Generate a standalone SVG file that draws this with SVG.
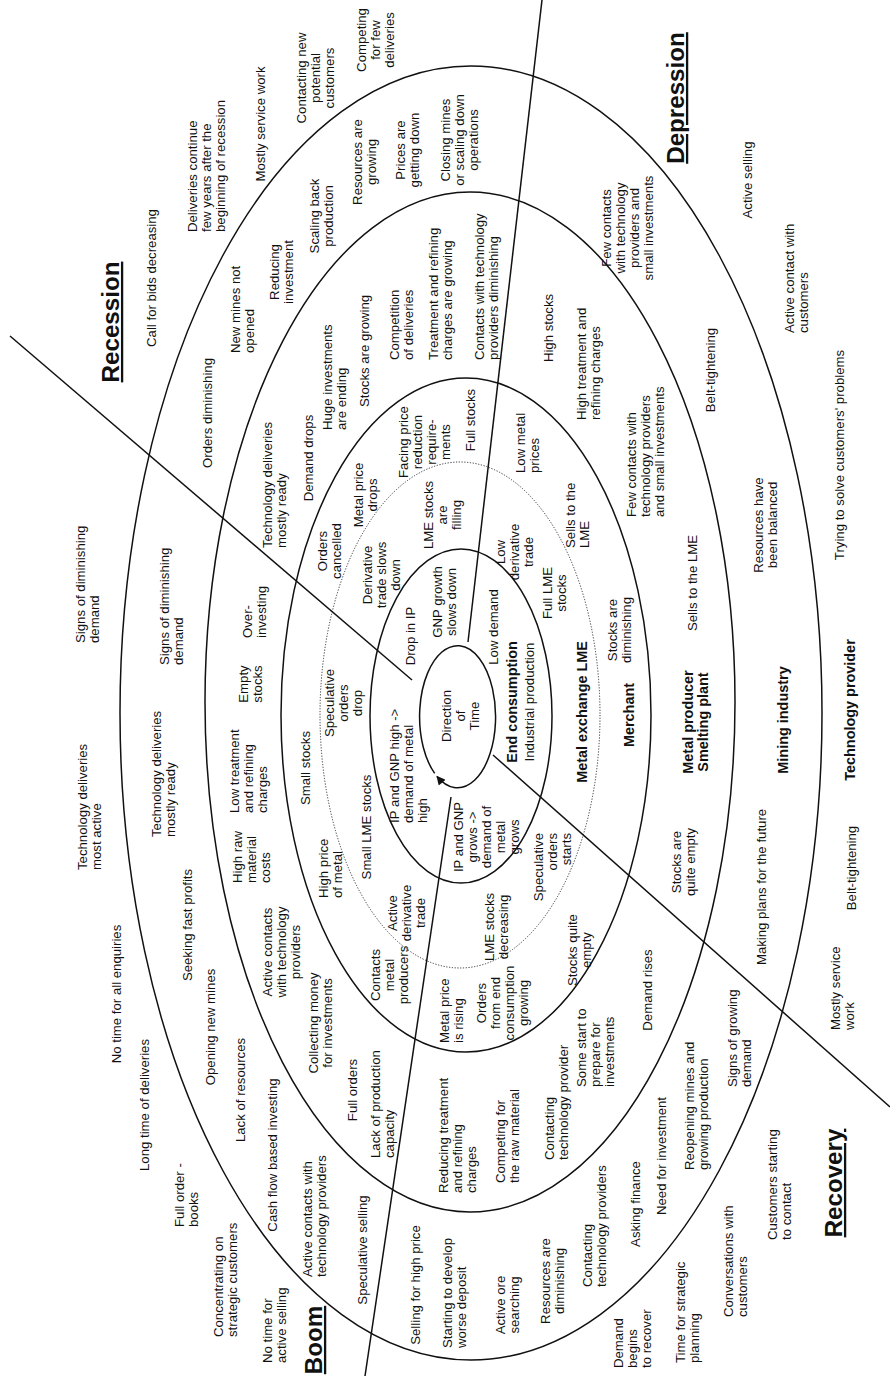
<svg xmlns="http://www.w3.org/2000/svg" width="890" height="1376" viewBox="0 0 890 1376">
<defs>
<style>
text{font-family:"Liberation Sans",Arial,sans-serif;fill:#111}
.t{font-size:12px}
.b{font-size:14px;font-weight:bold}
.h{font-size:23px;font-weight:bold;text-decoration:underline}
.ring{fill:none;stroke:#111;stroke-width:1.5}
.dot{fill:none;stroke:#333;stroke-width:1;stroke-dasharray:1.2 1.6}
.ln{stroke:#111;stroke-width:1.5;fill:none}
</style>
<marker id="arr" viewBox="0 0 10 10" refX="9" refY="5" markerWidth="11" markerHeight="9" markerUnits="userSpaceOnUse" orient="auto"><path d="M0,0 L10,5 L0,10 z" fill="#111"/></marker>
</defs>
<rect width="890" height="1376" fill="#fff"/>
<g id="rings">
<ellipse id="ring-tech" class="ring" cx="471" cy="713" rx="351" ry="647"/>
<ellipse id="ring-mining" class="ring" cx="470" cy="702" rx="265" ry="510"/>
<ellipse id="ring-producer" class="ring" cx="466" cy="715" rx="185" ry="337"/>
<ellipse id="ring-lme" class="dot" cx="460" cy="715" rx="140" ry="253"/>
<ellipse id="ring-end" class="ring" cx="461" cy="716" rx="91" ry="167"/>
<path id="ring-time" class="ring" d="M434.7,773.4 A38,71 0 1,1 437,776.4" marker-end="url(#arr)"/>
</g>
<g id="connectors">
<path class="ln" d="M10,336 L412,680"/>
<path class="ln" d="M542,0 L468,642"/>
<path class="ln" d="M493,755 L890,1107"/>
<path class="ln" d="M451,797 L365,1376"/>
</g>
<g id="labels">
<g id="n1" transform="translate(119,322) rotate(-90) scale(1.05,1)"><text class="h" text-anchor="middle">Recession</text></g>
<g id="n2" transform="translate(155.6,278) rotate(-90) scale(1.1,1)"><text class="t" text-anchor="middle">Call for bids decreasing</text></g>
<g id="n3" transform="translate(196.6,232) rotate(-90) scale(1.1,1)"><text class="t"><tspan x="0" y="0">Deliveries continue</tspan><tspan x="0" y="14">few years after the</tspan><tspan x="0" y="28">beginning of recession</tspan></text></g>
<g id="n4" transform="translate(264.6,124) rotate(-90) scale(1.1,1)"><text class="t" text-anchor="middle">Mostly service work</text></g>
<g id="n5" transform="translate(305.6,78) rotate(-90) scale(1.1,1)"><text class="t" text-anchor="middle"><tspan x="0" y="0">Contacting new</tspan><tspan x="0" y="14">potential</tspan><tspan x="0" y="28">customers</tspan></text></g>
<g id="n6" transform="translate(365.6,40) rotate(-90) scale(1.1,1)"><text class="t" text-anchor="middle"><tspan x="0" y="0">Competing</tspan><tspan x="0" y="14">for few</tspan><tspan x="0" y="28">deliveries</tspan></text></g>
<g id="n7" transform="translate(684,98) rotate(-90) scale(1.05,1)"><text class="h" text-anchor="middle">Depression</text></g>
<g id="n8" transform="translate(751.6,180) rotate(-90) scale(1.1,1)"><text class="t" text-anchor="middle">Active selling</text></g>
<g id="n9" transform="translate(793.6,333) rotate(-90) scale(1.1,1)"><text class="t"><tspan x="0" y="0">Active contact with</tspan><tspan x="0" y="14">customers</tspan></text></g>
<g id="n10" transform="translate(843.6,455) rotate(-90) scale(1.1,1)"><text class="t" text-anchor="middle">Trying to solve customers' problems</text></g>
<g id="n11" transform="translate(854.5,710) rotate(-90) scale(1.03,1)"><text class="b" text-anchor="middle">Technology provider</text></g>
<g id="n12" transform="translate(855.6,868) rotate(-90) scale(1.1,1)"><text class="t" text-anchor="middle">Belt-tightening</text></g>
<g id="n13" transform="translate(839.6,1030) rotate(-90) scale(1.1,1)"><text class="t"><tspan x="0" y="0">Mostly service</tspan><tspan x="0" y="14">work</tspan></text></g>
<g id="n14" transform="translate(842,1183) rotate(-90) scale(1.05,1)"><text class="h" text-anchor="middle">Recovery</text></g>
<g id="n15" transform="translate(776.6,1240) rotate(-90) scale(1.1,1)"><text class="t"><tspan x="0" y="0">Customers starting</tspan><tspan x="0" y="14">to contact</tspan></text></g>
<g id="n16" transform="translate(732.6,1317) rotate(-90) scale(1.1,1)"><text class="t"><tspan x="0" y="0">Conversations with</tspan><tspan x="0" y="14">customers</tspan></text></g>
<g id="n17" transform="translate(684.6,1363) rotate(-90) scale(1.1,1)"><text class="t"><tspan x="0" y="0">Time for strategic</tspan><tspan x="0" y="14">planning</tspan></text></g>
<g id="n18" transform="translate(622.6,1368) rotate(-90) scale(1.1,1)"><text class="t"><tspan x="0" y="0">Demand</tspan><tspan x="0" y="14">begins</tspan><tspan x="0" y="28">to recover</tspan></text></g>
<g id="n19" transform="translate(322,1340) rotate(-90) scale(1.05,1)"><text class="h" text-anchor="middle">Boom</text></g>
<g id="n20" transform="translate(271.6,1363) rotate(-90) scale(1.1,1)"><text class="t"><tspan x="0" y="0">No time for</tspan><tspan x="0" y="14">active selling</tspan></text></g>
<g id="n21" transform="translate(222.6,1337) rotate(-90) scale(1.1,1)"><text class="t"><tspan x="0" y="0">Concentrating on</tspan><tspan x="0" y="14">strategic customers</tspan></text></g>
<g id="n22" transform="translate(183.6,1227) rotate(-90) scale(1.1,1)"><text class="t"><tspan x="0" y="0">Full order -</tspan><tspan x="0" y="14">books</tspan></text></g>
<g id="n23" transform="translate(148.6,1105) rotate(-90) scale(1.1,1)"><text class="t" text-anchor="middle">Long time of deliveries</text></g>
<g id="n24" transform="translate(120.6,994) rotate(-90) scale(1.1,1)"><text class="t" text-anchor="middle">No time for all enquiries</text></g>
<g id="n25" transform="translate(86.6,870) rotate(-90) scale(1.1,1)"><text class="t"><tspan x="0" y="0">Technology deliveries</tspan><tspan x="0" y="14">most active</tspan></text></g>
<g id="n26" transform="translate(84.6,643) rotate(-90) scale(1.1,1)"><text class="t"><tspan x="0" y="0">Signs of diminishing</tspan><tspan x="0" y="14">demand</tspan></text></g>
<g id="n27" transform="translate(211.6,413) rotate(-90) scale(1.1,1)"><text class="t" text-anchor="middle">Orders diminishing</text></g>
<g id="n28" transform="translate(168.6,665) rotate(-90) scale(1.1,1)"><text class="t"><tspan x="0" y="0">Signs of diminishing</tspan><tspan x="0" y="14">demand</tspan></text></g>
<g id="n29" transform="translate(160.6,837) rotate(-90) scale(1.1,1)"><text class="t"><tspan x="0" y="0">Technology deliveries</tspan><tspan x="0" y="14">mostly ready</tspan></text></g>
<g id="n30" transform="translate(191.6,925) rotate(-90) scale(1.1,1)"><text class="t" text-anchor="middle">Seeking fast profits</text></g>
<g id="n31" transform="translate(214.6,1027) rotate(-90) scale(1.1,1)"><text class="t" text-anchor="middle">Opening new mines</text></g>
<g id="n32" transform="translate(244.6,1090) rotate(-90) scale(1.1,1)"><text class="t" text-anchor="middle">Lack of resources</text></g>
<g id="n33" transform="translate(276.6,1155) rotate(-90) scale(1.1,1)"><text class="t" text-anchor="middle">Cash flow based investing</text></g>
<g id="n34" transform="translate(311.6,1277) rotate(-90) scale(1.1,1)"><text class="t"><tspan x="0" y="0">Active contacts with</tspan><tspan x="0" y="14">technology providers</tspan></text></g>
<g id="n35" transform="translate(366.6,1250) rotate(-90) scale(1.1,1)"><text class="t" text-anchor="middle">Speculative selling</text></g>
<g id="n36" transform="translate(419.6,1285) rotate(-90) scale(1.1,1)"><text class="t" text-anchor="middle">Selling for high price</text></g>
<g id="n37" transform="translate(451.6,1348) rotate(-90) scale(1.1,1)"><text class="t"><tspan x="0" y="0">Starting to develop</tspan><tspan x="0" y="14">worse deposit</tspan></text></g>
<g id="n38" transform="translate(504.6,1305) rotate(-90) scale(1.1,1)"><text class="t" text-anchor="middle"><tspan x="0" y="0">Active ore</tspan><tspan x="0" y="14">searching</tspan></text></g>
<g id="n39" transform="translate(549.6,1281) rotate(-90) scale(1.1,1)"><text class="t" text-anchor="middle"><tspan x="0" y="0">Resources are</tspan><tspan x="0" y="14">diminishing</tspan></text></g>
<g id="n40" transform="translate(591.6,1287) rotate(-90) scale(1.1,1)"><text class="t"><tspan x="0" y="0">Contacting</tspan><tspan x="0" y="14">technology providers</tspan></text></g>
<g id="n41" transform="translate(639.6,1204) rotate(-90) scale(1.1,1)"><text class="t" text-anchor="middle">Asking finance</text></g>
<g id="n42" transform="translate(665.6,1156) rotate(-90) scale(1.1,1)"><text class="t" text-anchor="middle">Need for investment</text></g>
<g id="n43" transform="translate(693.6,1170) rotate(-90) scale(1.1,1)"><text class="t"><tspan x="0" y="0">Reopening mines and</tspan><tspan x="0" y="14">growing production</tspan></text></g>
<g id="n44" transform="translate(736.6,1087) rotate(-90) scale(1.1,1)"><text class="t"><tspan x="0" y="0">Signs of growing</tspan><tspan x="0" y="14">demand</tspan></text></g>
<g id="n45" transform="translate(765.6,887) rotate(-90) scale(1.1,1)"><text class="t" text-anchor="middle">Making plans for the future</text></g>
<g id="n46" transform="translate(787.5,720) rotate(-90) scale(1.03,1)"><text class="b" text-anchor="middle">Mining industry</text></g>
<g id="n47" transform="translate(762.6,525) rotate(-90) scale(1.1,1)"><text class="t" text-anchor="middle"><tspan x="0" y="0">Resources have</tspan><tspan x="0" y="14">been balanced</tspan></text></g>
<g id="n48" transform="translate(714.6,370) rotate(-90) scale(1.1,1)"><text class="t" text-anchor="middle">Belt-tightening</text></g>
<g id="n49" transform="translate(610.6,228) rotate(-90) scale(1.1,1)"><text class="t" text-anchor="middle"><tspan x="0" y="0">Few contacts</tspan><tspan x="0" y="14">with technology</tspan><tspan x="0" y="28">providers and</tspan><tspan x="0" y="42">small investments</tspan></text></g>
<g id="n50" transform="translate(239.6,353) rotate(-90) scale(1.1,1)"><text class="t"><tspan x="0" y="0">New mines not</tspan><tspan x="0" y="14">opened</tspan></text></g>
<g id="n51" transform="translate(278.6,272) rotate(-90) scale(1.1,1)"><text class="t" text-anchor="middle"><tspan x="0" y="0">Reducing</tspan><tspan x="0" y="14">investment</tspan></text></g>
<g id="n52" transform="translate(318.6,216) rotate(-90) scale(1.1,1)"><text class="t" text-anchor="middle"><tspan x="0" y="0">Scaling back</tspan><tspan x="0" y="14">production</tspan></text></g>
<g id="n53" transform="translate(361.6,162) rotate(-90) scale(1.1,1)"><text class="t" text-anchor="middle"><tspan x="0" y="0">Resources are</tspan><tspan x="0" y="14">growing</tspan></text></g>
<g id="n54" transform="translate(404.6,150) rotate(-90) scale(1.1,1)"><text class="t" text-anchor="middle"><tspan x="0" y="0">Prices are</tspan><tspan x="0" y="14">getting down</tspan></text></g>
<g id="n55" transform="translate(449.6,140) rotate(-90) scale(1.1,1)"><text class="t" text-anchor="middle"><tspan x="0" y="0">Closing mines</tspan><tspan x="0" y="14">or scaling down</tspan><tspan x="0" y="28">operations</tspan></text></g>
<g id="n56" transform="translate(271.6,548) rotate(-90) scale(1.1,1)"><text class="t"><tspan x="0" y="0">Technology deliveries</tspan><tspan x="0" y="14">mostly ready</tspan></text></g>
<g id="n57" transform="translate(251.6,638) rotate(-90) scale(1.1,1)"><text class="t"><tspan x="0" y="0">Over-</tspan><tspan x="0" y="14">investing</tspan></text></g>
<g id="n58" transform="translate(247.6,684) rotate(-90) scale(1.1,1)"><text class="t" text-anchor="middle"><tspan x="0" y="0">Empty</tspan><tspan x="0" y="14">stocks</tspan></text></g>
<g id="n59" transform="translate(238.6,813) rotate(-90) scale(1.1,1)"><text class="t"><tspan x="0" y="0">Low treatment</tspan><tspan x="0" y="14">and refining</tspan><tspan x="0" y="28">charges</tspan></text></g>
<g id="n60" transform="translate(241.6,883) rotate(-90) scale(1.1,1)"><text class="t"><tspan x="0" y="0">High raw</tspan><tspan x="0" y="14">material</tspan><tspan x="0" y="28">costs</tspan></text></g>
<g id="n61" transform="translate(271.6,952) rotate(-90) scale(1.1,1)"><text class="t" text-anchor="middle"><tspan x="0" y="0">Active contacts</tspan><tspan x="0" y="14">with technology</tspan><tspan x="0" y="28">providers</tspan></text></g>
<g id="n62" transform="translate(317.6,1023) rotate(-90) scale(1.1,1)"><text class="t" text-anchor="middle"><tspan x="0" y="0">Collecting money</tspan><tspan x="0" y="14">for investments</tspan></text></g>
<g id="n63" transform="translate(356.6,1090) rotate(-90) scale(1.1,1)"><text class="t" text-anchor="middle">Full orders</text></g>
<g id="n64" transform="translate(379.6,1158) rotate(-90) scale(1.1,1)"><text class="t"><tspan x="0" y="0">Lack of production</tspan><tspan x="0" y="14">capacity</tspan></text></g>
<g id="n65" transform="translate(447.6,1193) rotate(-90) scale(1.1,1)"><text class="t"><tspan x="0" y="0">Reducing treatment</tspan><tspan x="0" y="14">and refining</tspan><tspan x="0" y="28">charges</tspan></text></g>
<g id="n66" transform="translate(504.6,1183) rotate(-90) scale(1.1,1)"><text class="t"><tspan x="0" y="0">Competing for</tspan><tspan x="0" y="14">the raw material</tspan></text></g>
<g id="n67" transform="translate(553.6,1160) rotate(-90) scale(1.1,1)"><text class="t"><tspan x="0" y="0">Contacting</tspan><tspan x="0" y="14">technology provider</tspan></text></g>
<g id="n68" transform="translate(585.6,1087) rotate(-90) scale(1.1,1)"><text class="t"><tspan x="0" y="0">Some start to</tspan><tspan x="0" y="14">prepare for</tspan><tspan x="0" y="28">investments</tspan></text></g>
<g id="n69" transform="translate(651.6,990) rotate(-90) scale(1.1,1)"><text class="t" text-anchor="middle">Demand rises</text></g>
<g id="n70" transform="translate(680.6,862) rotate(-90) scale(1.1,1)"><text class="t" text-anchor="middle"><tspan x="0" y="0">Stocks are</tspan><tspan x="0" y="14">quite empty</tspan></text></g>
<g id="n71" transform="translate(692.5,722) rotate(-90) scale(1.03,1)"><text class="b" text-anchor="middle"><tspan x="0" y="0">Metal producer</tspan><tspan x="0" y="16">Smelting plant</tspan></text></g>
<g id="n72" transform="translate(696.6,583) rotate(-90) scale(1.1,1)"><text class="t" text-anchor="middle">Sells to the LME</text></g>
<g id="n73" transform="translate(635.6,517) rotate(-90) scale(1.1,1)"><text class="t"><tspan x="0" y="0">Few contacts with</tspan><tspan x="0" y="14">technology providers</tspan><tspan x="0" y="28">and small investments</tspan></text></g>
<g id="n74" transform="translate(585.6,420) rotate(-90) scale(1.1,1)"><text class="t"><tspan x="0" y="0">High treatment and</tspan><tspan x="0" y="14">refining charges</tspan></text></g>
<g id="n75" transform="translate(552.6,328) rotate(-90) scale(1.1,1)"><text class="t" text-anchor="middle">High stocks</text></g>
<g id="n76" transform="translate(483.6,360) rotate(-90) scale(1.1,1)"><text class="t"><tspan x="0" y="0">Contacts with technology</tspan><tspan x="0" y="14">providers diminishing</tspan></text></g>
<g id="n77" transform="translate(437.6,360) rotate(-90) scale(1.1,1)"><text class="t"><tspan x="0" y="0">Treatment and refining</tspan><tspan x="0" y="14">charges are growing</tspan></text></g>
<g id="n78" transform="translate(398.6,360) rotate(-90) scale(1.1,1)"><text class="t"><tspan x="0" y="0">Competition</tspan><tspan x="0" y="14">of deliveries</tspan></text></g>
<g id="n79" transform="translate(368.6,407) rotate(-90) scale(1.1,1)"><text class="t">Stocks are growing</text></g>
<g id="n80" transform="translate(331.6,430) rotate(-90) scale(1.1,1)"><text class="t"><tspan x="0" y="0">Huge investments</tspan><tspan x="0" y="14">are ending</tspan></text></g>
<g id="n81" transform="translate(312.6,458) rotate(-90) scale(1.1,1)"><text class="t" text-anchor="middle">Demand drops</text></g>
<g id="n82" transform="translate(309.6,768) rotate(-90) scale(1.1,1)"><text class="t" text-anchor="middle">Small stocks</text></g>
<g id="n83" transform="translate(327.6,898) rotate(-90) scale(1.1,1)"><text class="t"><tspan x="0" y="0">High price</tspan><tspan x="0" y="14">of metal</tspan></text></g>
<g id="n84" transform="translate(379.6,975) rotate(-90) scale(1.1,1)"><text class="t" text-anchor="middle"><tspan x="0" y="0">Contacts</tspan><tspan x="0" y="14">metal</tspan><tspan x="0" y="28">producers</tspan></text></g>
<g id="n85" transform="translate(448.6,1043) rotate(-90) scale(1.1,1)"><text class="t"><tspan x="0" y="0">Metal price</tspan><tspan x="0" y="14">is rising</tspan></text></g>
<g id="n86" transform="translate(485.6,1003) rotate(-90) scale(1.1,1)"><text class="t" text-anchor="middle"><tspan x="0" y="0">Orders</tspan><tspan x="0" y="14">from end</tspan><tspan x="0" y="28">consumption</tspan><tspan x="0" y="42">growing</tspan></text></g>
<g id="n87" transform="translate(576.6,950) rotate(-90) scale(1.1,1)"><text class="t" text-anchor="middle"><tspan x="0" y="0">Stocks quite</tspan><tspan x="0" y="14">empty</tspan></text></g>
<g id="n88" transform="translate(633.5,715) rotate(-90) scale(1.03,1)"><text class="b" text-anchor="middle">Merchant</text></g>
<g id="n89" transform="translate(616.6,630) rotate(-90) scale(1.1,1)"><text class="t" text-anchor="middle"><tspan x="0" y="0">Stocks are</tspan><tspan x="0" y="14">diminishing</tspan></text></g>
<g id="n90" transform="translate(574.6,548) rotate(-90) scale(1.1,1)"><text class="t"><tspan x="0" y="0">Sells to the</tspan><tspan x="0" y="14">LME</tspan></text></g>
<g id="n91" transform="translate(524.6,473) rotate(-90) scale(1.1,1)"><text class="t"><tspan x="0" y="0">Low metal</tspan><tspan x="0" y="14">prices</tspan></text></g>
<g id="n92" transform="translate(474.6,420) rotate(-90) scale(1.1,1)"><text class="t" text-anchor="middle">Full stocks</text></g>
<g id="n93" transform="translate(407.6,442) rotate(-90) scale(1.1,1)"><text class="t" text-anchor="middle"><tspan x="0" y="0">Facing price</tspan><tspan x="0" y="14">reduction</tspan><tspan x="0" y="28">require-</tspan><tspan x="0" y="42">ments</tspan></text></g>
<g id="n94" transform="translate(362.6,495) rotate(-90) scale(1.1,1)"><text class="t" text-anchor="middle"><tspan x="0" y="0">Metal price</tspan><tspan x="0" y="14">drops</tspan></text></g>
<g id="n95" transform="translate(326.6,551) rotate(-90) scale(1.1,1)"><text class="t" text-anchor="middle"><tspan x="0" y="0">Orders</tspan><tspan x="0" y="14">cancelled</tspan></text></g>
<g id="n96" transform="translate(333.6,703) rotate(-90) scale(1.1,1)"><text class="t" text-anchor="middle"><tspan x="0" y="0">Speculative</tspan><tspan x="0" y="14">orders</tspan><tspan x="0" y="28">drop</tspan></text></g>
<g id="n97" transform="translate(371.6,575) rotate(-90) scale(1.1,1)"><text class="t" text-anchor="middle"><tspan x="0" y="0">Derivative</tspan><tspan x="0" y="14">trade slows</tspan><tspan x="0" y="28">down</tspan></text></g>
<g id="n98" transform="translate(432.6,515) rotate(-90) scale(1.1,1)"><text class="t" text-anchor="middle"><tspan x="0" y="0">LME stocks</tspan><tspan x="0" y="14">are</tspan><tspan x="0" y="28">filling</tspan></text></g>
<g id="n99" transform="translate(504.6,552) rotate(-90) scale(1.1,1)"><text class="t" text-anchor="middle"><tspan x="0" y="0">Low</tspan><tspan x="0" y="14">derivative</tspan><tspan x="0" y="28">trade</tspan></text></g>
<g id="n100" transform="translate(551.6,593) rotate(-90) scale(1.1,1)"><text class="t" text-anchor="middle"><tspan x="0" y="0">Full LME</tspan><tspan x="0" y="14">stocks</tspan></text></g>
<g id="n101" transform="translate(586.5,712) rotate(-90) scale(1.03,1)"><text class="b" text-anchor="middle">Metal exchange LME</text></g>
<g id="n102" transform="translate(542.6,833) rotate(-90) scale(1.1,1)"><text class="t" text-anchor="end"><tspan x="0" y="0">Speculative</tspan><tspan x="0" y="14">orders</tspan><tspan x="0" y="28">starts</tspan></text></g>
<g id="n103" transform="translate(493.6,927) rotate(-90) scale(1.1,1)"><text class="t" text-anchor="middle"><tspan x="0" y="0">LME stocks</tspan><tspan x="0" y="14">decreasing</tspan></text></g>
<g id="n104" transform="translate(396.6,913) rotate(-90) scale(1.1,1)"><text class="t" text-anchor="middle"><tspan x="0" y="0">Active</tspan><tspan x="0" y="14">derivative</tspan><tspan x="0" y="28">trade</tspan></text></g>
<g id="n105" transform="translate(370.6,827) rotate(-90) scale(1.1,1)"><text class="t" text-anchor="middle">Small LME stocks</text></g>
<g id="n106" transform="translate(414.6,636) rotate(-90) scale(1.1,1)"><text class="t" text-anchor="middle">Drop in IP</text></g>
<g id="n107" transform="translate(441.6,602) rotate(-90) scale(1.1,1)"><text class="t" text-anchor="middle"><tspan x="0" y="0">GNP growth</tspan><tspan x="0" y="14">slows down</tspan></text></g>
<g id="n108" transform="translate(497.6,627) rotate(-90) scale(1.1,1)"><text class="t" text-anchor="middle">Low demand</text></g>
<g id="n109" transform="translate(516.5,702) rotate(-90) scale(1.03,1)"><text class="b" text-anchor="middle">End consumption</text></g>
<g id="n110" transform="translate(533.6,702) rotate(-90) scale(1.1,1)"><text class="t" text-anchor="middle">Industrial production</text></g>
<g id="n111" transform="translate(398.6,823) rotate(-90) scale(1.1,1)"><text class="t"><tspan x="0" y="0">IP and GNP high -&gt;</tspan><tspan x="0" y="14">demand of metal</tspan><tspan x="0" y="28">high</tspan></text></g>
<g id="n112" transform="translate(462.6,837) rotate(-90) scale(1.1,1)"><text class="t" text-anchor="middle"><tspan x="0" y="0">IP and GNP</tspan><tspan x="0" y="14">grows -&gt;</tspan><tspan x="0" y="28">demand of</tspan><tspan x="0" y="42">metal</tspan><tspan x="0" y="56">grows</tspan></text></g>
<g id="n113" transform="translate(450.6,716) rotate(-90) scale(1.1,1)"><text class="t" text-anchor="middle"><tspan x="0" y="0">Direction</tspan><tspan x="0" y="14">of</tspan><tspan x="0" y="28">Time</tspan></text></g>
</g>
</svg>
